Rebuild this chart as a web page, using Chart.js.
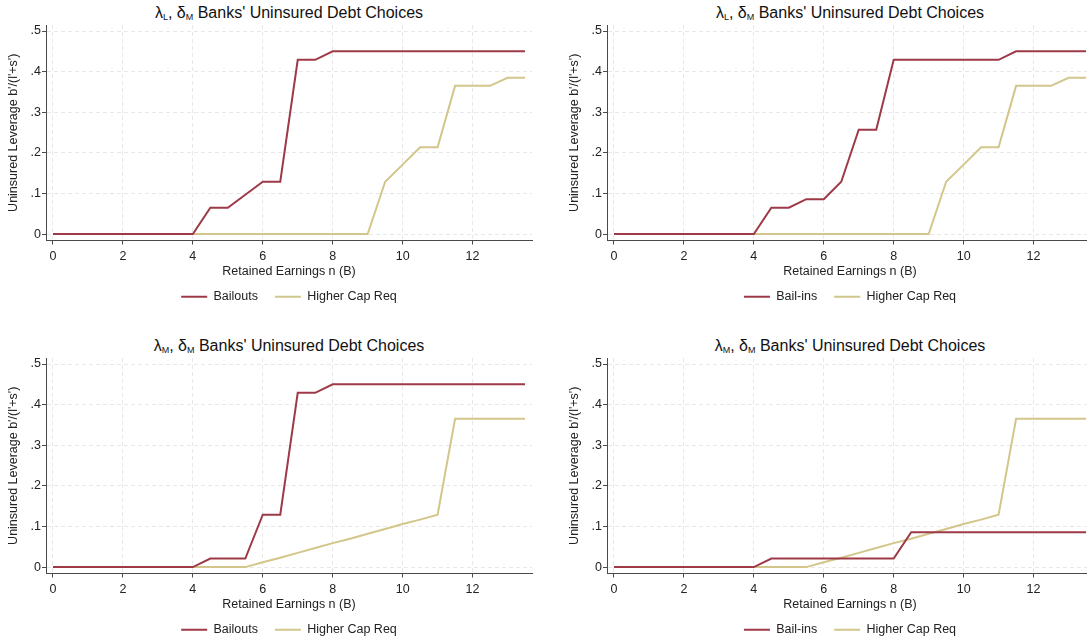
<!DOCTYPE html>
<html>
<head>
<meta charset="utf-8">
<title>Uninsured Debt Choices</title>
<script src="https://cdn.jsdelivr.net/npm/chart.js@4.4.1/dist/chart.umd.min.js"></script>
<style>
  html, body { margin: 0; padding: 0; background: #fff; }
  body {
    width: 1087px; height: 644px; overflow: hidden; position: relative;
    font-family: "Liberation Sans", Arial, sans-serif;
  }
  .panel { position: absolute; width: 545px; height: 322px; }
  .panel canvas { position: absolute; left: 0; top: 0; }
  .panel h2 {
    position: absolute; left: 46px; width: 486px; top: 4px; margin: 0;
    font-size: 16px; line-height: 18px; font-weight: normal;
    text-align: center; color: #111; white-space: nowrap;
  }
  .panel h2 sub { font-size: 9px; line-height: 0; vertical-align: -2px; }
</style>
</head>
<body>

<div class="panel" style="left:0;top:0">
  <h2>λ<sub>L</sub>, δ<sub>M</sub> Banks' Uninsured Debt Choices</h2>
  <canvas id="lowBailouts" width="545" height="322"></canvas>
</div>
<div class="panel" style="left:561px;top:0">
  <h2>λ<sub>L</sub>, δ<sub>M</sub> Banks' Uninsured Debt Choices</h2>
  <canvas id="lowBailins" width="545" height="322"></canvas>
</div>
<div class="panel" style="left:0;top:333px">
  <h2>λ<sub>M</sub>, δ<sub>M</sub> Banks' Uninsured Debt Choices</h2>
  <canvas id="midBailouts" width="545" height="322"></canvas>
</div>
<div class="panel" style="left:561px;top:333px">
  <h2>λ<sub>M</sub>, δ<sub>M</sub> Banks' Uninsured Debt Choices</h2>
  <canvas id="midBailins" width="545" height="322"></canvas>
</div>

<script>
// Retained earnings grid (B)
const earnings = [0, 0.5, 1, 1.5, 2, 2.5, 3, 3.5, 4, 4.5, 5, 5.5, 6, 6.5,
                  7, 7.5, 8, 8.5, 9, 9.5, 10, 10.5, 11, 11.5, 12, 12.5, 13, 13.5];

const xTicks = [0, 2, 4, 6, 8, 10, 12];
const yTicks = [0, 0.1, 0.2, 0.3, 0.4, 0.5];

// lambda_L banks
const bailoutsLow = [0, 0, 0, 0, 0, 0, 0, 0, 0, 0.065, 0.065, 0.097, 0.129, 0.129,
                     0.429, 0.429, 0.45, 0.45, 0.45, 0.45, 0.45, 0.45, 0.45, 0.45, 0.45, 0.45, 0.45, 0.45];
const bailinsLow = [0, 0, 0, 0, 0, 0, 0, 0, 0, 0.065, 0.065, 0.086, 0.086, 0.129,
                    0.257, 0.257, 0.429, 0.429, 0.429, 0.429, 0.429, 0.429, 0.429, 0.45, 0.45, 0.45, 0.45, 0.45];
const capReqLow = [0, 0, 0, 0, 0, 0, 0, 0, 0, 0, 0, 0, 0, 0,
                   0, 0, 0, 0, 0, 0.129, 0.171, 0.214, 0.214, 0.365, 0.365, 0.365, 0.385, 0.385];

// lambda_M banks
const bailoutsMid = [0, 0, 0, 0, 0, 0, 0, 0, 0, 0.021, 0.021, 0.021, 0.129, 0.129,
                     0.429, 0.429, 0.45, 0.45, 0.45, 0.45, 0.45, 0.45, 0.45, 0.45, 0.45, 0.45, 0.45, 0.45];
const bailinsMid = [0, 0, 0, 0, 0, 0, 0, 0, 0, 0.021, 0.021, 0.021, 0.021, 0.021,
                    0.021, 0.021, 0.021, 0.086, 0.086, 0.086, 0.086, 0.086, 0.086, 0.086, 0.086, 0.086, 0.086, 0.086];
const capReqMid = [0, 0, 0, 0, 0, 0, 0, 0, 0, 0, 0, 0, 0.012, 0.023,
                   0.035, 0.047, 0.059, 0.070, 0.082, 0.094, 0.106, 0.117, 0.129, 0.365, 0.365, 0.365, 0.365, 0.365];

const RED = "#9e3a47";
const TAN = "#d3c68a";
const AXIS = "#4a4a4a";
const TEXT = "#222";
const GRID = "#e8e8e8";

Chart.defaults.font.family = "'Liberation Sans', Arial, sans-serif";
Chart.defaults.font.size = 12.5;
Chart.defaults.color = TEXT;

function toPoints(values) {
    return earnings.map((n, i) => ({ x: n, y: values[i] }));
}

function formatShare(v) {
    // Stata style: 0, .1, .2 ...
    return v === 0 ? "0" : String(v).replace(/^0/, "");
}

function makePanel(canvasId, firstLabel, firstValues, capValues) {
    return new Chart(document.getElementById(canvasId), {
        type: "line",
        data: {
            datasets: [{
                label: firstLabel,
                data: toPoints(firstValues),
                borderColor: RED,
                backgroundColor: RED,
                borderWidth: 2,
                pointRadius: 0,
                tension: 0
            }, {
                label: "Higher Cap Req",
                data: toPoints(capValues),
                borderColor: TAN,
                backgroundColor: TAN,
                borderWidth: 2,
                pointRadius: 0,
                tension: 0
            }]
        },
        options: {
            responsive: false,
            animation: false,
            layout: { padding: { top: 25, left: 0, right: 13, bottom: 9 } },
            plugins: {
                title: { display: false },
                tooltip: { enabled: false },
                legend: {
                    position: "bottom",
                    fullSize: false,
                    labels: {
                        usePointStyle: true,
                        pointStyle: "line",
                        pointStyleWidth: 26,
                        padding: 17,
                        color: TEXT
                    }
                }
            },
            scales: {
                x: {
                    type: "linear",
                    min: -0.2,
                    max: 13.7,
                    afterBuildTicks: axis => { axis.ticks = xTicks.map(v => ({ value: v })); },
                    afterFit: axis => { axis.height = 33; },
                    grid: { color: GRID, tickColor: AXIS, tickLength: 4, tickBorderDash: [] },
                    border: { color: AXIS, dash: [4, 3] },
                    ticks: { padding: 5, maxRotation: 0, autoSkip: false },
                    title: {
                        display: true,
                        text: "Retained Earnings n (B)",
                        padding: { top: 0, bottom: -6 }
                    }
                },
                y: {
                    min: -0.0157,
                    max: 0.5148,
                    afterBuildTicks: axis => { axis.ticks = yTicks.map(v => ({ value: v })); },
                    afterFit: axis => { axis.width = 46; },
                    grid: { color: GRID, tickColor: AXIS, tickLength: 4, tickBorderDash: [] },
                    border: { color: AXIS, dash: [4, 3] },
                    ticks: { padding: 1, autoSkip: false, callback: v => formatShare(v) },
                    title: {
                        display: true,
                        text: "Uninsured Leverage b'/(l'+s')",
                        padding: { top: 6, bottom: 0 }
                    }
                }
            }
        }
    });
}

makePanel("lowBailouts", "Bailouts", bailoutsLow, capReqLow);
makePanel("lowBailins", "Bail-ins", bailinsLow, capReqLow);
makePanel("midBailouts", "Bailouts", bailoutsMid, capReqMid);
makePanel("midBailins", "Bail-ins", bailinsMid, capReqMid);
</script>
</body>
</html>
